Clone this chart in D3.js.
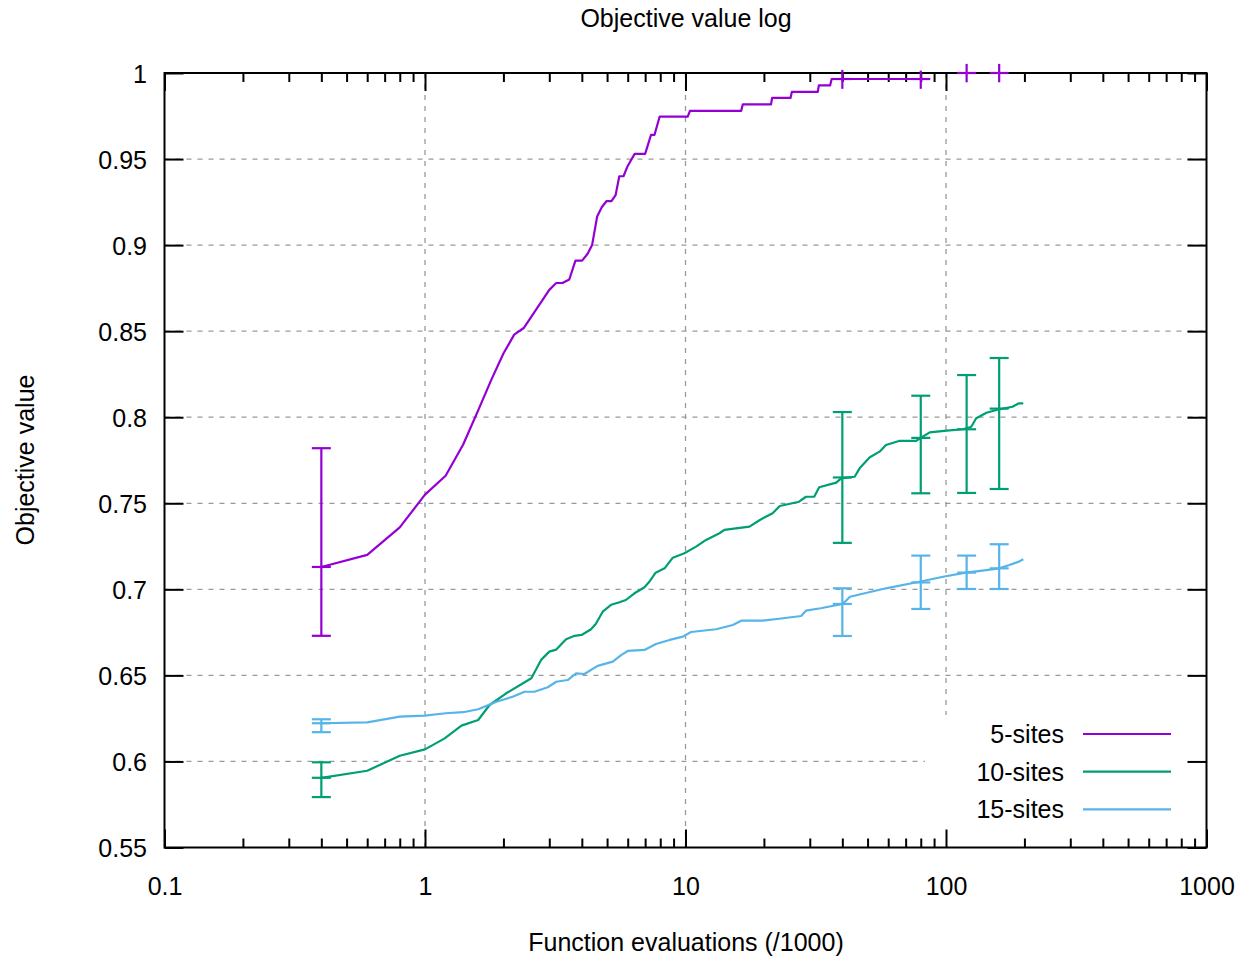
<!DOCTYPE HTML>
<html lang="en">
	<head>
		<meta charset="UTF-8">
		<style>
			body { margin: 0; background: #fff; }
			text { font-family: "Liberation Sans", Arial, sans-serif; fill: #000; }
		</style>
	</head>
	<body>
		<script type="text/javascript" src="https://d3js.org/d3.v7.min.js"></script>
		<script>
			// series names + colours
			var seriesNames = ['5-sites', '10-sites', '15-sites']
			var seriesColors = ['#9400d3', '#009e73', '#56b4e9']

			// 5-sites
			var evals5 = [0.4,0.6,0.8,1.0,1.2,1.4,1.6,1.8,2.0,2.2,2.4,3.0,3.19,3.37,3.58,3.78,4.01,4.21,4.38,4.58,4.77,4.98,5.2,5.39,5.57,5.78,6.0,6.38,7.0,7.37,7.6,7.96,10.2,10.4,16.35,16.6,21.3,21.5,25.3,25.6,32.2,32.5,35.9,36.4,86.4]
			var obj5 = [0.713,0.720,0.736,0.755,0.766,0.784,0.804,0.822,0.837,0.848,0.852,0.874,0.878,0.878,0.880,0.891,0.891,0.895,0.900,0.9166,0.922,0.9256,0.9256,0.929,0.940,0.940,0.946,0.953,0.953,0.964,0.964,0.9747,0.9747,0.978,0.978,0.9818,0.9818,0.9855,0.9855,0.989,0.989,0.9928,0.9928,0.9965,0.9965]

			// 10-sites
			var evals10 = [0.4,0.6,0.8,1.0,1.19,1.38,1.6,1.77,2.05,2.56,2.79,3.0,3.19,3.48,3.75,3.99,4.34,4.53,4.81,5.18,5.58,5.9,6.37,6.96,7.26,7.68,8.31,8.94,9.9,10.98,11.99,13.5,14.1,17.6,19.3,21.6,23.0,27.3,29.0,31.2,32.6,37.9,39.6,44.6,46.6,51.0,55.6,58.8,66,76.6,86.6,100.6,116.5,125,130.6,143,160,180,190,198]
			var obj10 = [0.5905,0.5946,0.6033,0.607,0.6134,0.6208,0.6241,0.6328,0.6396,0.6483,0.659,0.6638,0.665,0.671,0.673,0.6735,0.6768,0.680,0.687,0.691,0.6925,0.6938,0.6977,0.7012,0.7044,0.7097,0.7122,0.7184,0.721,0.7248,0.7287,0.7326,0.7345,0.7364,0.7403,0.7442,0.7484,0.7509,0.7538,0.7538,0.7593,0.762,0.7645,0.7654,0.7703,0.7767,0.780,0.7839,0.7862,0.7862,0.7912,0.7922,0.793,0.7945,0.7994,0.8026,0.8046,0.8061,0.808,0.808]

			// 15-sites
			var evals15 = [0.4,0.6,0.8,1.0,1.2,1.4,1.6,1.88,2.17,2.41,2.63,2.96,3.19,3.53,3.8,4.09,4.6,5.26,5.66,6.0,6.96,7.7,8.69,9.77,10.5,13.1,15.2,16.35,19.8,23.7,27.8,29,33.0,36.6,40.1,42.8,58.8,79,97.5,119,143,160,175,190,198]
			var obj15 = [0.6222,0.6227,0.626,0.6266,0.628,0.6286,0.6303,0.6347,0.6376,0.6405,0.6405,0.6431,0.6463,0.6473,0.6512,0.6508,0.6555,0.658,0.6618,0.6642,0.6648,0.6682,0.6706,0.6725,0.6752,0.6768,0.6793,0.6818,0.6818,0.6832,0.6845,0.6876,0.689,0.6903,0.6915,0.6957,0.7006,0.7044,0.7073,0.7097,0.7112,0.7122,0.7141,0.716,0.7175]

			// error bars (same x for all series)
			var errEvals = [0.4, 40, 80, 120, 160]
			var errMid5 = [0.713, 0.9965, 0.9965, 1.0, 1.0]
			var errLo5 = [0.673, 0.9908, 0.9908, 0.9946, 0.9946]
			var errHi5 = [0.782, 1.0018, 1.0014, 1.0053, 1.0053]
			var errMid10 = [0.5905, 0.765, 0.788, 0.793, 0.805]
			var errLo10 = [0.5793, 0.727, 0.7558, 0.756, 0.7583]
			var errHi10 = [0.5995, 0.803, 0.8125, 0.8245, 0.8344]
			var errMid15 = [0.6222, 0.6915, 0.704, 0.7097, 0.7122]
			var errLo15 = [0.617, 0.6729, 0.6886, 0.7002, 0.7002]
			var errHi15 = [0.6245, 0.7006, 0.7196, 0.7196, 0.7262]

			// ticks
			var xMajorTicks = [0.1, 1, 10, 100, 1000]
			var xTickLabels = ['0.1', '1', '10', '100', '1000']
			var yTicks = [0.55,0.6,0.65,0.7,0.75,0.8,0.85,0.9,0.95,1]
			var yTickLabels = ['0.55','0.6','0.65','0.7','0.75','0.8','0.85','0.9','0.95','1']

			var width = 1247
				,height = 957
				,pL = 164.5, pR = 1206.5, pT = 73, pB = 847.5
				,fontSize = '25px'
				,svg = d3.select('body').append('svg').attr('width', width).attr('height', height)
				,x = d3.scaleLog().domain([0.1, 1000]).range([pL, pR])
				,y = d3.scaleLinear().domain([0.55, 1]).range([pB, pT])

			var series = [
				{ xs: evals5, ys: obj5, mid: errMid5, lo: errLo5, hi: errHi5 },
				{ xs: evals10, ys: obj10, mid: errMid10, lo: errLo10, hi: errHi10 },
				{ xs: evals15, ys: obj15, mid: errMid15, lo: errLo15, hi: errHi15 }
			]

			var xMinor = []
			xMajorTicks.slice(0, -1).forEach(function(d) {
				for (var k = 2; k < 10; k++) xMinor.push(d * k)
			})

			// grid
			var grid = svg.append('g').attr('stroke', '#999').attr('stroke-width', 1.3).attr('stroke-dasharray', '5,6')
			grid.selectAll('.gy').data(yTicks.slice(1, -1)).enter().append('line')
				.attr('x1', pL).attr('x2', pR).attr('y1', function(d){ return y(d) }).attr('y2', function(d){ return y(d) })
			grid.selectAll('.gx').data(xMajorTicks.slice(1, -1)).enter().append('line')
				.attr('y1', pT).attr('y2', pB).attr('x1', function(d){ return x(d) }).attr('x2', function(d){ return x(d) })

			// key area blanks the grid
			svg.append('rect').attr('x', 925).attr('y', 715).attr('width', pR - 925).attr('height', pB - 715).attr('fill', '#fff')

			// axes, ticks pointing inward
			function styleAxis(g) {
				g.select('.domain').remove()
				g.selectAll('.tick line').attr('stroke', '#000').attr('stroke-width', 2)
				g.selectAll('.tick text').style('font-size', fontSize).style('font-family', '"Liberation Sans", Arial, sans-serif').attr('fill', '#000')
			}
			svg.append('g').attr('transform', 'translate(0,' + pB + ')')
				.call(d3.axisBottom(x).tickValues(xMajorTicks).tickSizeInner(-18).tickSizeOuter(0).tickPadding(30)
					.tickFormat(function(d, i){ return xTickLabels[i] }))
				.call(styleAxis)
			svg.append('g').attr('transform', 'translate(0,' + pB + ')')
				.call(d3.axisBottom(x).tickValues(xMinor).tickSizeInner(-9).tickSizeOuter(0).tickFormat(''))
				.call(styleAxis)
			svg.append('g').attr('transform', 'translate(0,' + pT + ')')
				.call(d3.axisTop(x).tickValues(xMajorTicks).tickSizeInner(-18).tickSizeOuter(0).tickFormat(''))
				.call(styleAxis)
			svg.append('g').attr('transform', 'translate(0,' + pT + ')')
				.call(d3.axisTop(x).tickValues(xMinor).tickSizeInner(-9).tickSizeOuter(0).tickFormat(''))
				.call(styleAxis)
			svg.append('g').attr('transform', 'translate(' + pL + ',0)')
				.call(d3.axisLeft(y).tickValues(yTicks).tickSizeInner(-19).tickSizeOuter(0).tickPadding(17.5)
					.tickFormat(function(d, i){ return yTickLabels[i] }))
				.call(styleAxis)
				.selectAll('.tick text').attr('dy', '0.36em')
			svg.append('g').attr('transform', 'translate(' + pR + ',0)')
				.call(d3.axisRight(y).tickValues(yTicks).tickSizeInner(-19).tickSizeOuter(0).tickFormat(''))
				.call(styleAxis)

			svg.append('rect').attr('x', pL).attr('y', pT).attr('width', pR - pL).attr('height', pB - pT)
				.attr('fill', 'none').attr('stroke', '#000').attr('stroke-width', 2)

			// lines
			var line = d3.line().x(function(d){ return x(d[0]) }).y(function(d){ return y(d[1]) })
			series.forEach(function(s, i) {
				svg.append('path')
					.datum(s.xs.map(function(v, j){ return [v, s.ys[j]] }))
					.attr('d', line)
					.attr('fill', 'none').attr('stroke', seriesColors[i]).attr('stroke-width', 2.2).attr('stroke-linejoin', 'round')

				var eb = svg.append('g').attr('stroke', seriesColors[i]).attr('stroke-width', 2.2)
				errEvals.forEach(function(ev, j) {
					var cx = x(ev)
					eb.append('line').attr('x1', cx).attr('x2', cx).attr('y1', y(s.lo[j])).attr('y2', y(s.hi[j]))
					eb.append('line').attr('x1', cx - 9.5).attr('x2', cx + 9.5).attr('y1', y(s.mid[j])).attr('y2', y(s.mid[j]))
					if (s.hi[j] <= 1) {
						eb.append('line').attr('x1', cx - 9.5).attr('x2', cx + 9.5).attr('y1', y(s.lo[j])).attr('y2', y(s.lo[j]))
						eb.append('line').attr('x1', cx - 9.5).attr('x2', cx + 9.5).attr('y1', y(s.hi[j])).attr('y2', y(s.hi[j]))
					}
				})
			})

			// key
			var key = svg.append('g')
			seriesNames.forEach(function(name, i) {
				var ky = 734 + i * 37.7
				key.append('text').attr('x', 1064).attr('y', ky + 9).attr('text-anchor', 'end').style('font-size', fontSize).text(name)
				key.append('line').attr('x1', 1083).attr('x2', 1171).attr('y1', ky).attr('y2', ky)
					.attr('stroke', seriesColors[i]).attr('stroke-width', 2.2)
			})

			// titles
			svg.append('text').attr('x', 686).attr('y', 27).attr('text-anchor', 'middle').style('font-size', fontSize).text('Objective value log')
			svg.append('text').attr('x', 686).attr('y', 951).attr('text-anchor', 'middle').style('font-size', fontSize).text('Function evaluations (/1000)')
			svg.append('text').attr('transform', 'translate(34,460) rotate(-90)').attr('text-anchor', 'middle').style('font-size', fontSize).text('Objective value')
		</script>
	</body>
</html>
